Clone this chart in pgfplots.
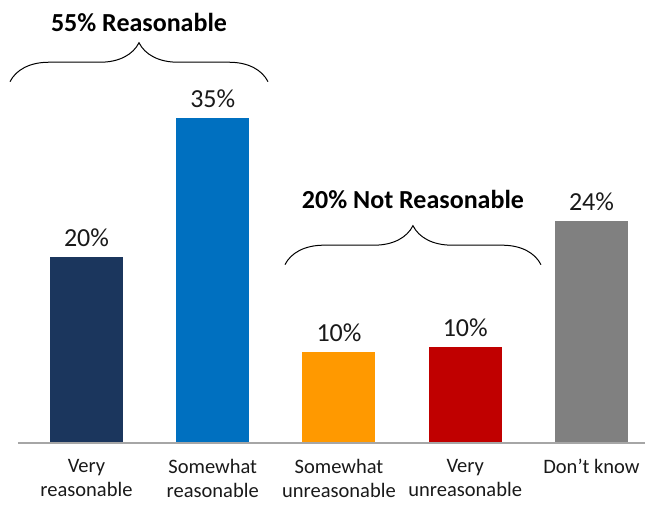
\documentclass[border=0pt]{standalone}
\usepackage{pgfplots}
\pgfplotsset{compat=1.18}
\usepackage{fontspec}
\setmainfont{Carlito}
\usetikzlibrary{decorations.pathreplacing}
\definecolor{cnavy}{HTML}{1B365D}
\definecolor{cblue}{HTML}{0070C0}
\definecolor{corange}{HTML}{FF9900}
\definecolor{cred}{HTML}{C00000}
\definecolor{cgray}{HTML}{808080}
\begin{document}
\begin{tikzpicture}
\begin{axis}[
  scale only axis,
  width=645pt, height=443pt,
  xmin=-0.685, xmax=4.424,
  ymin=0, ymax=47.7,
  axis y line=none,
  axis x line*=bottom,
  x axis line style={draw=none},
  xtick={0,1,2,3,4},
  xticklabels={Very\\reasonable, Somewhat\\reasonable, Somewhat\\unreasonable, Very\\unreasonable, Don’t know},
  xticklabel style={align=center, font=\fontsize{20.5}{24.5}\selectfont, yshift=-15pt, text=black!90, inner sep=1pt},
  major tick length=0pt,
  ytick=\empty,
  clip=false,
  /pgf/number format/assume math mode=true,
  ybar, bar width=73pt, bar shift=0pt,
  nodes near coords={\pgfmathprintnumber[fixed,precision=0,assume math mode=true]{\pgfplotspointmeta}\%},
  every node near coord/.append style={font=\fontsize{26}{30}\selectfont, text=black!90, yshift=7pt},
]
\coordinate (bl) at (rel axis cs:0,0);
\coordinate (tr) at (rel axis cs:1,1);
\addplot[fill=cnavy, draw=none] coordinates {(0,20)};
\addplot[fill=cblue, draw=none] coordinates {(1,35)};
\addplot[fill=corange, draw=none] coordinates {(2,9.8)};
\addplot[fill=cred, draw=none] coordinates {(3,10.3)};
\addplot[fill=cgray, draw=none] coordinates {(4,23.9)};
\draw[color=gray!70, line width=1.2pt] (axis cs:-0.543,0) -- (axis cs:4.424,0);
\draw[decorate, decoration={brace, amplitude=39pt}, line width=1pt] (axis cs:-0.606,38.9) -- (axis cs:1.438,38.9);
\draw[decorate, decoration={brace, amplitude=39pt}, line width=1pt] (axis cs:1.572,19.2) -- (axis cs:3.6,19.2);
\node[font=\fontsize{26}{30}\selectfont\bfseries] at (axis cs:0.416,45.3) {55\% Reasonable};
\node[font=\fontsize{26}{30}\selectfont\bfseries] at (axis cs:2.586,26.2) {20\% Not Reasonable};
\end{axis}
\pgfresetboundingbox
\path (bl) ++(0,-64pt) rectangle (tr);
\end{tikzpicture}
\end{document}
